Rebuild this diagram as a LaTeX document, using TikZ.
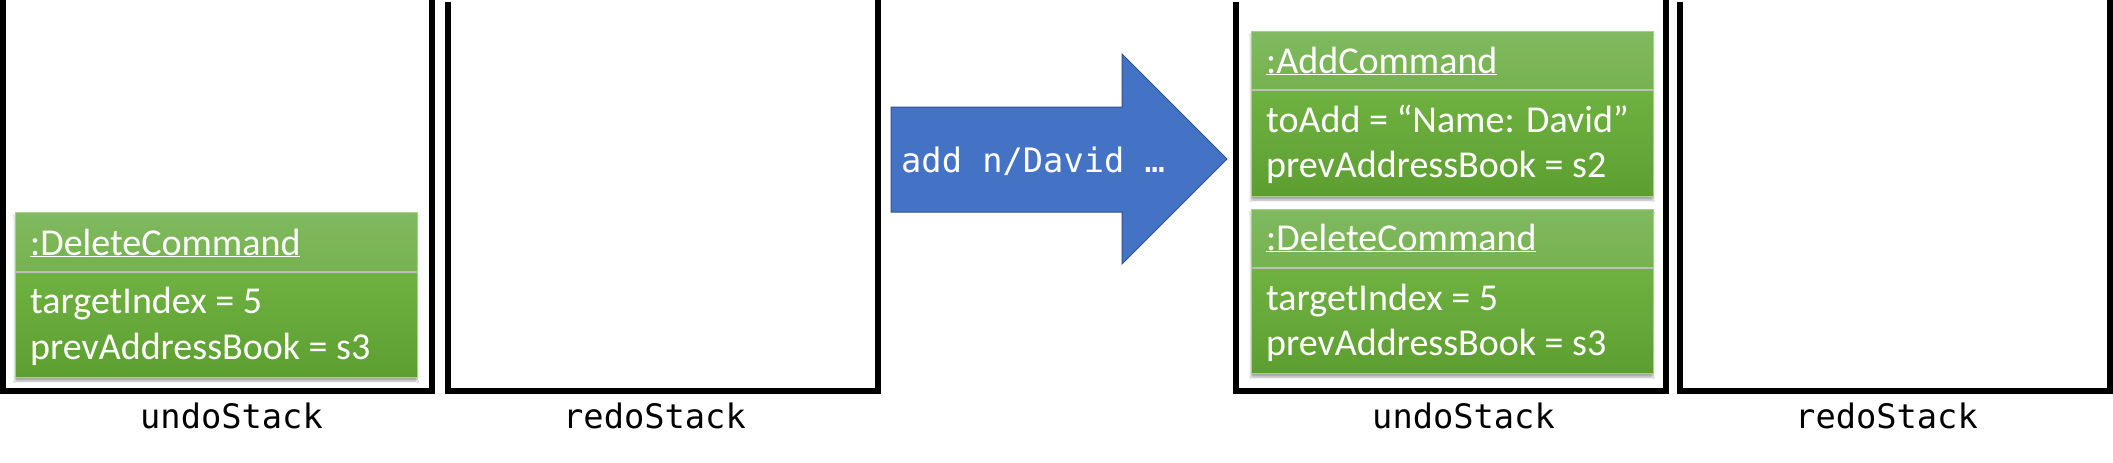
\documentclass[tikz,border=0pt]{standalone}
\usepackage{fontspec}
\setmainfont{Carlito}
\newfontfamily\monofont{DejaVu Sans Mono}
\usetikzlibrary{shadows.blur}
\definecolor{hdtop}{HTML}{80B960}
\definecolor{hdbot}{HTML}{76B24F}
\definecolor{bdtop}{HTML}{6EB241}
\definecolor{bdbot}{HTML}{5E9E31}
\definecolor{bxedge}{HTML}{A8CF8C}
\definecolor{divgray}{HTML}{BDBDBD}
\definecolor{arrfill}{HTML}{4472C4}
\definecolor{arredge}{HTML}{2F528F}
\tikzset{
  stackline/.style={line width=6pt, black},
  stacklabel/.style={font=\monofont\fontsize{33.7}{40}\selectfont, anchor=base west, inner sep=0pt, black},
  headfill/.style={top color=hdtop, bottom color=hdbot},
  bodyfill/.style={top color=bdtop, bottom color=bdbot},
  boxshadow/.style={blur shadow={shadow xshift=0pt, shadow yshift=-4pt, shadow opacity=35, shadow blur steps=6, shadow blur extra rounding=1pt}},
  boxtext/.style={font=\fontsize{38}{46}\selectfont, text=white, anchor=base west, inner sep=0pt},
  divline/.style={draw=divgray, line width=2.5pt},
}
\begin{document}
\begin{tikzpicture}[x=1pt, y=-1pt]
\useasboundingbox[fill=white] (0,0) rectangle (2113,463);

% stacks
\draw[stackline] (3,-5) -- (3,391) -- (432,391) -- (432,-5);
\draw[stackline] (448,2) -- (448,391) -- (878,391) -- (878,-5);
\draw[stackline] (1236,2) -- (1236,391) -- (1666,391) -- (1666,-5);
\draw[stackline] (1680,2) -- (1680,391) -- (2110,391) -- (2110,-5);

\node[stacklabel] (u1) at (140,428) {undoStack};
\node[stacklabel] (r1) at (563,428) {redoStack};
\node[stacklabel] (u2) at (1372,428) {undoStack};
\node[stacklabel] (r2) at (1795,428) {redoStack};

% big arrow
\draw[fill=arrfill, draw=arredge, line width=1pt]
  (891,107) -- (1122,107) -- (1122,54) -- (1227,159) -- (1122,264) -- (1122,212) -- (891,212) -- cycle;
\node[font=\monofont\fontsize{33.7}{40}\selectfont, text=white, anchor=base west, inner sep=0pt] (cmd) at (901,172) {add n/David …};

% box 1: DeleteCommand (left undo stack)
\fill[boxshadow, white] (15,212) rectangle (417,377);
\fill[headfill] (15,212) rectangle (417,272);
\fill[bodyfill] (15,272) rectangle (417,377);
\draw[bxedge, line width=1pt] (15,212) rectangle (417,377);
\draw[divline] (15,272) -- (417,272);
\node[boxtext] (d1t) at (30,255) {\underline{:DeleteCommand}};
\node[boxtext] (d1a) at (30,313) {targetIndex = 5};
\node[boxtext] (d1b) at (30,359) {prevAddressBook = s3};

% box 2: AddCommand
\fill[boxshadow, white] (1251,31) rectangle (1653,196);
\fill[headfill] (1251,31) rectangle (1653,90);
\fill[bodyfill] (1251,90) rectangle (1653,196);
\draw[bxedge, line width=1pt] (1251,31) rectangle (1653,196);
\draw[divline] (1251,90) -- (1653,90);
\node[boxtext] (a2t) at (1266,73) {\underline{:AddCommand}};
\node[boxtext] (a2a) at (1266,132) {toAdd = “Name: David”};
\node[boxtext] (a2b) at (1266,177) {prevAddressBook = s2};

% box 3: DeleteCommand (right undo stack)
\fill[boxshadow, white] (1251,209) rectangle (1653,373);
\fill[headfill] (1251,209) rectangle (1653,268);
\fill[bodyfill] (1251,268) rectangle (1653,373);
\draw[bxedge, line width=1pt] (1251,209) rectangle (1653,373);
\draw[divline] (1251,268) -- (1653,268);
\node[boxtext] (d2t) at (1266,250) {\underline{:DeleteCommand}};
\node[boxtext] (d2a) at (1266,310) {targetIndex = 5};
\node[boxtext] (d2b) at (1266,355) {prevAddressBook = s3};
\end{tikzpicture}
\end{document}
